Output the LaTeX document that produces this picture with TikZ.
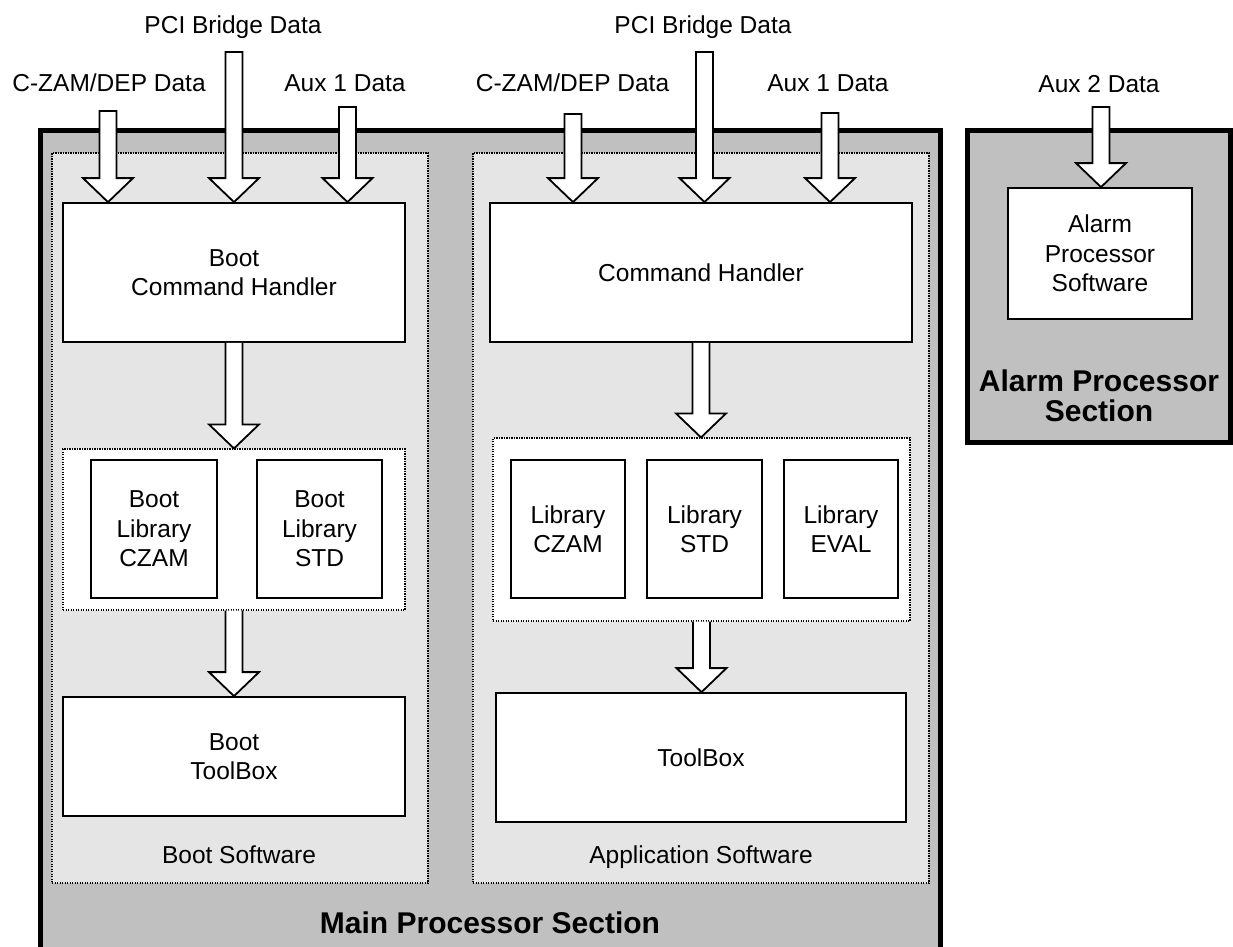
\documentclass[tikz,border=0pt]{standalone}
\usepackage{fontspec}
\setmainfont{Liberation Sans}
\usetikzlibrary{calc}
\definecolor{secgray}{HTML}{C0C0C0}
\definecolor{swgray}{HTML}{E5E5E5}
\tikzset{
  txt/.style={font={\fontsize{24.5pt}{29.5pt}\selectfont}, align=center, inner sep=0pt},
  bold/.style={font={\fontsize{30pt}{30pt}\selectfont\bfseries}, align=center, inner sep=0pt},
  box/.style={txt, rectangle, draw=black, fill=white, line width=1.8pt},
  section/.style={rectangle, draw=black, fill=secgray, line width=5pt, inner sep=0pt},
  swregion/.style={rectangle, draw=black, fill=swgray, line width=1.1pt, dash pattern=on 1.1pt off 1.4pt, inner sep=0pt},
  libgroup/.style={rectangle, draw=black, fill=white, line width=1.1pt, dash pattern=on 1.1pt off 1.4pt, inner sep=0pt},
  barrow/.style={draw=black, fill=white, line width=1.8pt, line join=miter},
}
% block arrow: #1 extra path end (e.g. "-- cycle"), #2 start coordinate, #3 tip coordinate
\newcommand{\blockarrow}[3][]{%
  \draw[barrow] let \p1=(#2), \p2=(#3) in
    (\x1-8.5pt,\y1) -- (\x1-8.5pt,\y2+24pt) -- (\x1-25pt,\y2+24pt) -- (\x1,\y2)
    -- (\x1+25pt,\y2+24pt) -- (\x1+8.5pt,\y2+24pt) -- (\x1+8.5pt,\y1) #1;}
\begin{document}
\begin{tikzpicture}[x=1pt,y=-1pt]
\useasboundingbox (0,0) rectangle (1233,946);
\clip (0,0) rectangle (1233,946);

% sections
\node[section, minimum width=900pt, minimum height=830pt] (main) at (490.5,545) {};
\node[section, minimum width=263pt, minimum height=312pt] (alarm) at (1098.5,286) {};

% software regions
\node[swregion, minimum width=376pt, minimum height=730pt] (bootsw) at (240,518) {};
\node[swregion, minimum width=456pt, minimum height=730pt] (appsw) at (701,518) {};

% boot software
\node[box, minimum width=342pt, minimum height=139pt] (bch) at (234,272.5) {Boot\\Command Handler};
\node[libgroup, minimum width=342pt, minimum height=161pt] (blib) at (234,529.5) {};
\node[box, minimum width=126pt, minimum height=138pt] (blibcz) at (154,529) {Boot\\Library\\CZAM};
\node[box, minimum width=125pt, minimum height=138pt] (blibstd) at (319.5,529) {Boot\\Library\\STD};
\node[box, minimum width=342pt, minimum height=119pt] (btb) at (234,756.5) {Boot\\ToolBox};
\node[txt, anchor=base] (bootlbl) at (239,863) {Boot Software};

% application software
\node[box, minimum width=422pt, minimum height=139pt] (ach) at (701,272.5) {Command Handler};
\node[libgroup, minimum width=417pt, minimum height=183pt] (alib) at (701.5,529.5) {};
\node[box, minimum width=114pt, minimum height=138pt] (alibcz) at (568,529) {Library\\CZAM};
\node[box, minimum width=115pt, minimum height=138pt] (alibstd) at (704.5,529) {Library\\STD};
\node[box, minimum width=114pt, minimum height=138pt] (alibeval) at (841,529) {Library\\EVAL};
\node[box, minimum width=410pt, minimum height=129pt] (atb) at (701,757.5) {ToolBox};
\node[txt, anchor=base] (applbl) at (701,863) {Application Software};

\node[bold, anchor=base] (mainlbl) at (490,933) {Main Processor Section};

% alarm section
\node[box, minimum width=184pt, minimum height=131pt] (alsw) at (1100,253.5) {Alarm\\Processor\\Software};
\node[bold] (alarmlbl) at (1099,396) {Alarm Processor\\Section};

% top labels
\node[txt, anchor=base] (bczlbl) at (109,91) {C-ZAM/DEP Data};
\node[txt, anchor=base] (bpcilbl) at (233,33) {PCI Bridge Data};
\node[txt, anchor=base] (bauxlbl) at (345,91) {Aux 1 Data};
\node[txt, anchor=base] (aczlbl) at (572.5,91) {C-ZAM/DEP Data};
\node[txt, anchor=base] (apcilbl) at (703,33) {PCI Bridge Data};
\node[txt, anchor=base] (aauxlbl) at (828,91) {Aux 1 Data};
\node[txt, anchor=base] (aux2lbl) at (1099,92) {Aux 2 Data};

% arrow start points
\coordinate (bczS) at (108,111);
\coordinate (bpciS) at (234,52);
\coordinate (bauxS) at (347.5,107);
\coordinate (aczS) at (573,114);
\coordinate (apciS) at (704.5,52);
\coordinate (aauxS) at (830,113);
\coordinate (aux2S) at (1101,107);

% input arrows
\blockarrow[-- cycle]{bczS}{bczS |- bch.north}
\blockarrow[-- cycle]{bpciS}{bpciS |- bch.north}
\blockarrow[-- cycle]{bauxS}{bauxS |- bch.north}
\blockarrow[-- cycle]{aczS}{aczS |- ach.north}
\blockarrow[-- cycle]{apciS}{apciS |- ach.north}
\blockarrow[-- cycle]{aauxS}{aauxS |- ach.north}
\blockarrow[-- cycle]{aux2S}{aux2S |- alsw.north}

% internal arrows
\blockarrow{bch.south}{blib.north}
\blockarrow{blib.south}{btb.north}
\blockarrow{ach.south}{alib.north}
\blockarrow{alib.south}{atb.north}
\end{tikzpicture}
\end{document}
